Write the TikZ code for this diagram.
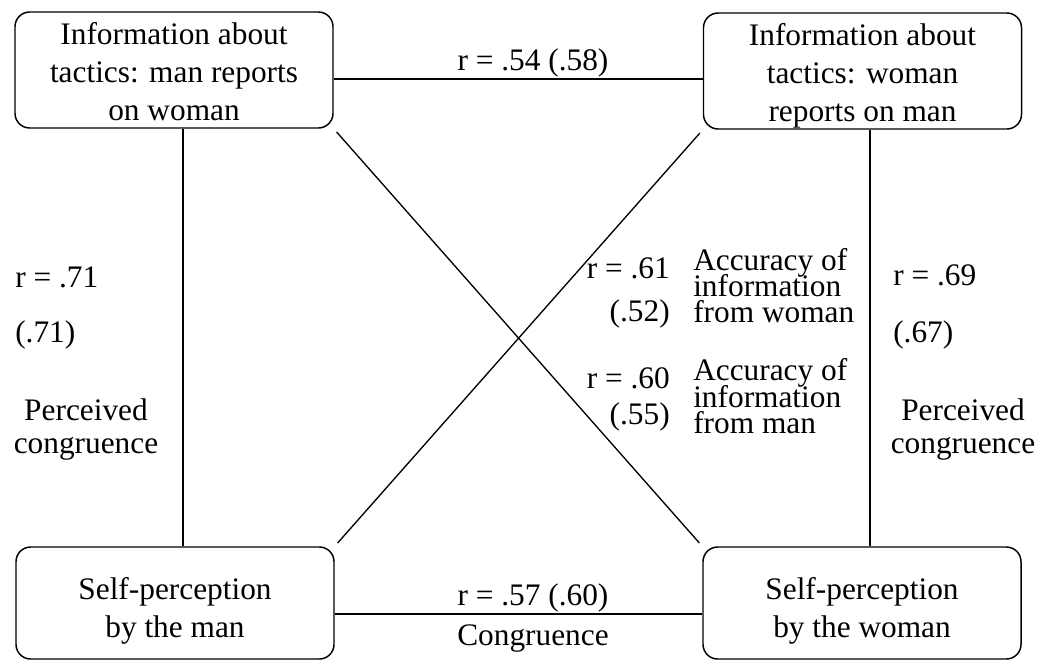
\documentclass[tikz,border=0pt]{standalone}
\usepackage{fontspec}
\setmainfont{Liberation Serif}
\usetikzlibrary{calc}
% stacked, centred lines inside a box, shifted vertically by #1
\newcommand\boxlines[2]{\raisebox{#1}[0pt][0pt]{\begin{tabular}{@{}c@{}}#2\end{tabular}}}
\begin{document}
\begin{tikzpicture}[x=0.75pt,y=-0.75pt,
  box/.style={draw, line width=1.1pt, rounded corners=11pt, inner sep=0pt,
    minimum width=238.5pt, font=\fontsize{23.5}{28.5}\selectfont},
  lab/.style={inner sep=0pt, font=\fontsize{23.5}{28}\selectfont},
  tight/.style={lab, text height=12pt, text depth=1pt},
  link/.style={line width=1pt}]
\useasboundingbox (0,0) rectangle (1037,661);

% the four boxes
\node[box, minimum height=87pt] (tl) at (174,70)
  {\boxlines{-10pt}{Information about\\tactics: man reports\\on woman}};
\node[box, minimum height=87pt] (tr) at (862.5,71)
  {\boxlines{-10pt}{Information about\\tactics: woman\\reports on man}};
\node[box, minimum height=84pt] (bl) at (175,603)
  {\boxlines{-12pt}{Self-perception\\by the man}};
\node[box, minimum height=84pt] (br) at (862,603)
  {\boxlines{-12pt}{Self-perception\\by the woman}};

% attachment points of the straight connectors
\path (tl.east) ++(0,9) coordinate (topL);
\path (bl.east) ++(0,11) coordinate (botL);
\path (tl.south) ++(9,0) coordinate (leftT);
\path (tr.south) ++(7.5,0) coordinate (rightT);

\draw[link] (topL) -- (topL -| tr.west);
\draw[link] (botL) -- (botL -| br.west);
\draw[link] (leftT) -- (leftT |- bl.north);
\draw[link] (rightT) -- (rightT |- br.north);
\draw[link, shorten <=3.3pt, shorten >=3.3pt] (tl.south east) -- (br.north west);
\draw[link, shorten <=3.3pt, shorten >=3.3pt] (tr.south west) -- (bl.north east);

% correlations along the horizontal connectors
\node[lab, anchor=base] (rtop) at (533,70) {r = .54 (.58)};
\node[lab, anchor=base] (rbot) at (533,605) {r = .57 (.60)};
\node[lab, anchor=base] (cong) at (533,645) {Congruence};

% left side
\node[lab, anchor=base west] (rl1) at (15,287) {r = .71};
\node[lab, anchor=base west] (rl2) at (15,342) {(.71)};
\node[lab, anchor=base] (pl1) at (86,420) {Perceived};
\node[lab, anchor=base] (pl2) at (86,453) {congruence};

% right side
\node[lab, anchor=base west] (rr1) at (893,285) {r = .69};
\node[lab, anchor=base west] (rr2) at (893,342) {(.67)};
\node[lab, anchor=base] (pr1) at (963,420) {Perceived};
\node[lab, anchor=base] (pr2) at (963,453) {congruence};

% diagonals
\node[lab, anchor=base east] (d1a) at (670,278) {r = .61};
\node[lab, anchor=base east] (d1b) at (670,321) {(.52)};
\node[tight, anchor=base west] (a1a) at (693,270) {Accuracy of};
\node[tight, anchor=base west] (a1b) at (693,296) {information};
\node[tight, anchor=base west] (a1c) at (693,322) {from woman};

\node[lab, anchor=base east] (d2a) at (670,388) {r = .60};
\node[lab, anchor=base east] (d2b) at (670,424) {(.55)};
\node[tight, anchor=base west] (a2a) at (693,380) {Accuracy of};
\node[tight, anchor=base west] (a2b) at (693,407) {information};
\node[tight, anchor=base west] (a2c) at (693,433) {from man};
\end{tikzpicture}
\end{document}
